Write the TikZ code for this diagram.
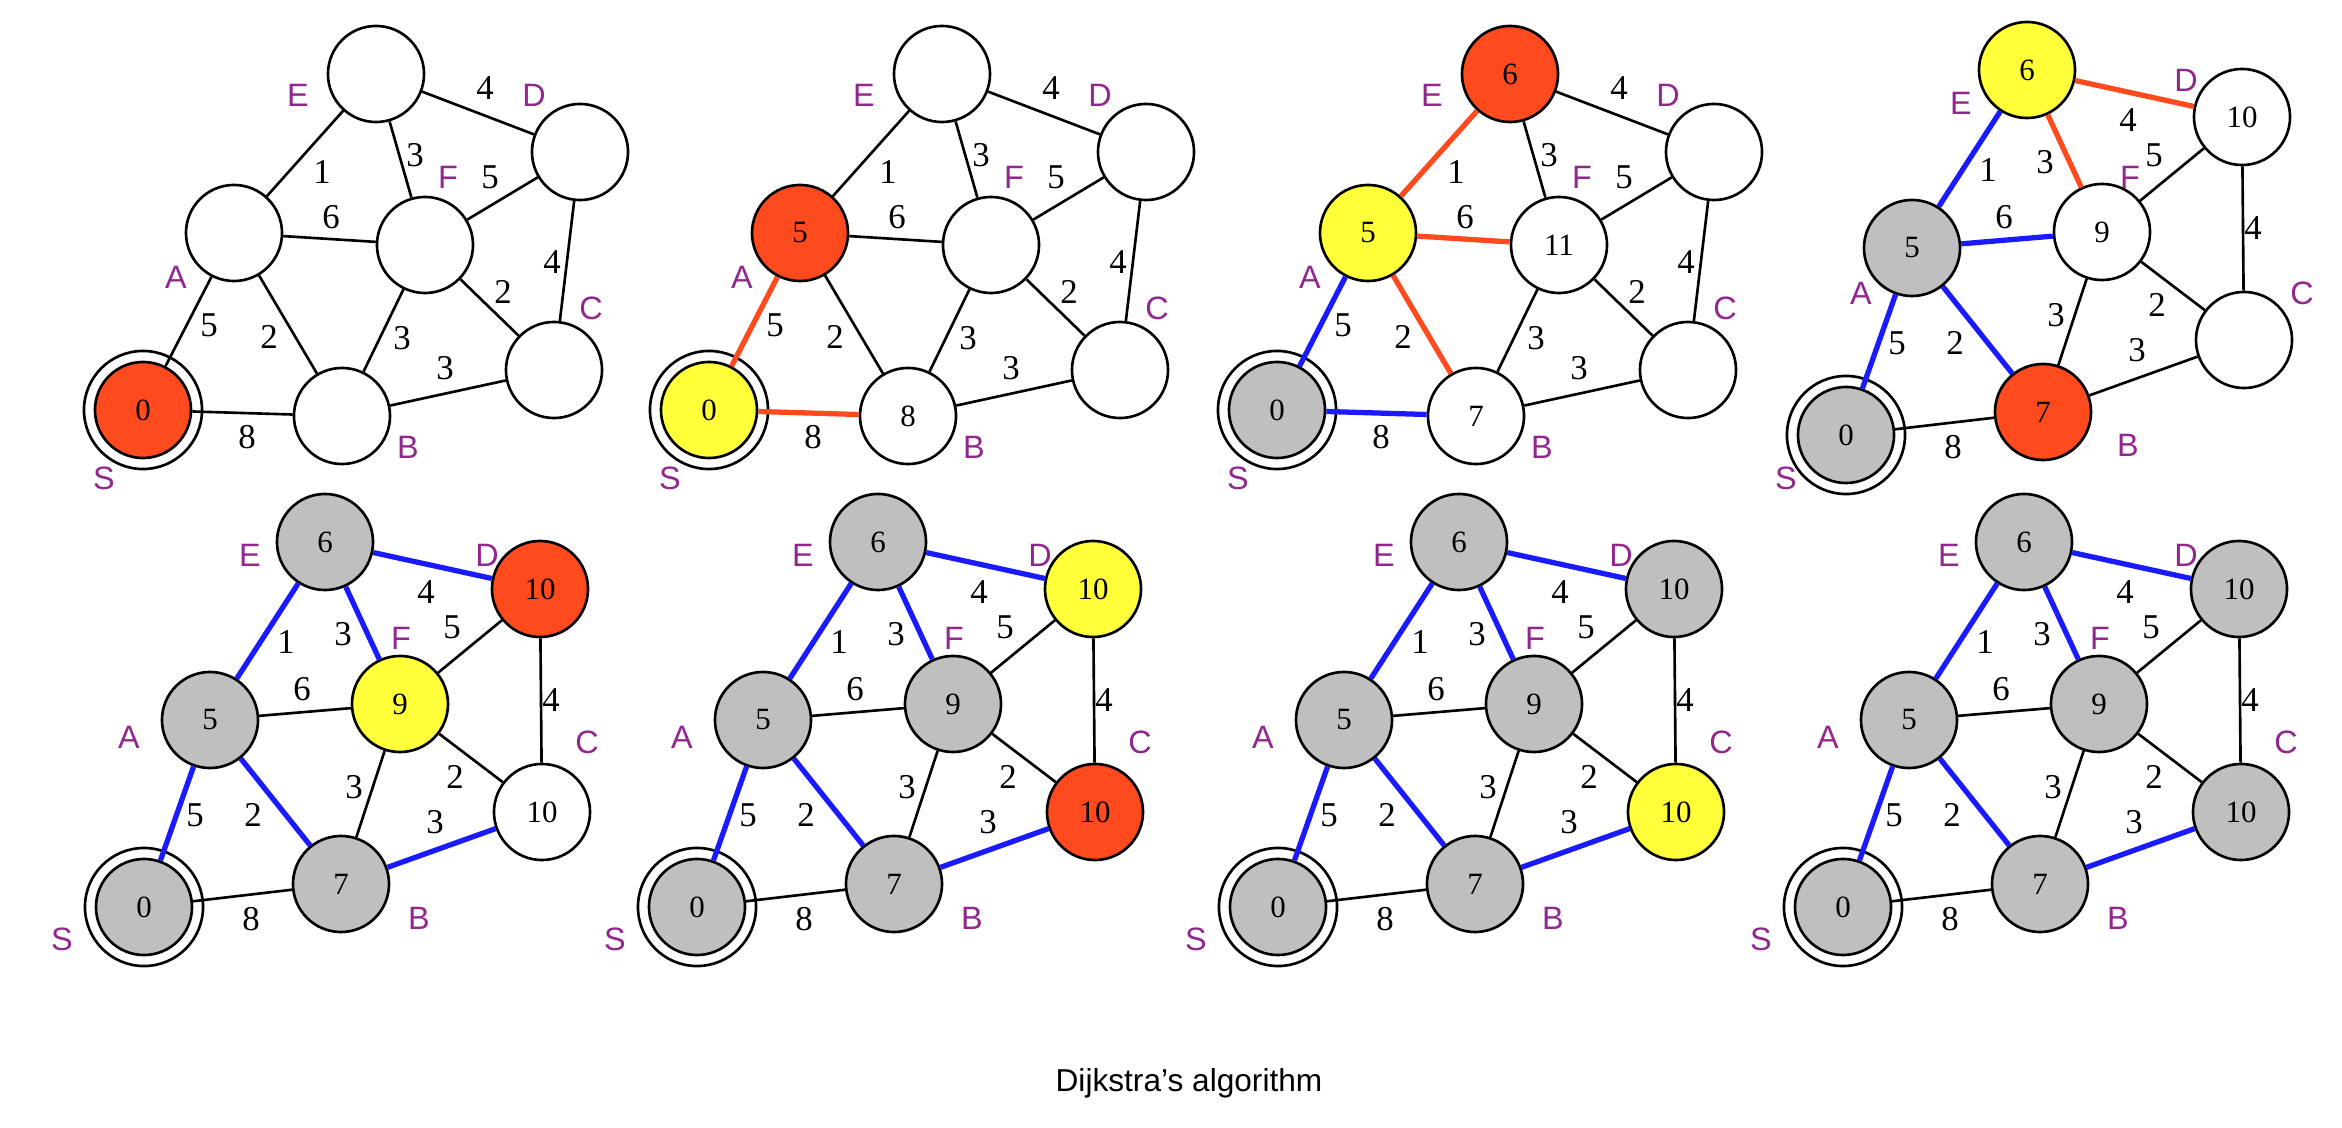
\documentclass[tikz,border=0pt]{standalone}
\usepackage{fontspec}
\setmainfont{Liberation Serif}
\newfontfamily\lblfont{Liberation Sans}
\usetikzlibrary{calc}

\definecolor{curred}{RGB}{255,74,30}
\definecolor{nxtyellow}{RGB}{255,255,58}
\definecolor{setgray}{RGB}{191,191,191}
\definecolor{treeblue}{RGB}{26,26,255}
\definecolor{lblpurple}{RGB}{146,38,143}

\tikzset{
	vert/.style={circle,draw,line width=0.75pt,minimum size=0.96cm,inner sep=0pt,font=\fontsize{8.8}{8.8}\selectfont},
	unseen/.style={fill=white},
	current/.style={fill=curred},
	frontier/.style={fill=nxtyellow},
	settled/.style={fill=setgray},
	ring/.style={line width=0.75pt},
	edg/.style={line width=0.75pt},
	tree/.style={line width=1.5pt,treeblue},
	relax/.style={line width=1.5pt,curred},
	wt/.style={font=\fontsize{9.9}{9.9}\selectfont,inner sep=0pt},
	lbl/.style={font=\lblfont\fontsize{9.2}{9.2}\selectfont,text=lblpurple,inner sep=0pt}
}

\newcommand{\layoutA}{%
	\foreach \n/\p in {S/{143,410},A/{234,233},E/{376,74},D/{580,152},F/{425,245},C/{554,370},B/{342,416}}
		\coordinate (\n0) at (\p);
	\foreach \n/\p/\w in {ED/{485,88}/4,EF/{415,155}/3,AE/{322,172}/1,FD/{490,177}/5,AF/{331,217}/6,DC/{552,262}/4,
			FC/{503,292}/2,SA/{209,325}/5,AB/{269,337}/2,FB/{402,338}/3,BC/{445,368}/3,SB/{247,437}/8}
		\node[wt] (w\n) at (\p) {\w};
}
\newcommand{\layoutB}{%
	\foreach \n/\p in {S/{144,435},A/{210,248},E/{325,70},D/{540,117},F/{400,232},C/{542,340},B/{341,412}}
		\coordinate (\n0) at (\p);
	\foreach \n/\p/\w in {ED/{426,120}/4,EF/{343,162}/3,AE/{286,170}/1,FD/{452,155}/5,AF/{302,217}/6,DC/{551,228}/4,
			FC/{455,305}/2,FB/{354,315}/3,SA/{195,343}/5,AB/{253,343}/2,BC/{435,350}/3,SB/{251,447}/8}
		\node[wt] (w\n) at (\p) {\w};
}
\newcommand{\lettersA}{\foreach \n/\p in {E/{298,95},D/{534,95},F/{448,177},A/{176,277},C/{591,308},B/{408,447},S/{104,478}}
	\node[lbl] (l\n) at (\p) {\n};}
\newcommand{\lettersB}{\foreach \n/\p in {E/{259,103},D/{484,80},F/{428,177},A/{159,293},C/{600,293},B/{426,445},S/{84,478}}
	\node[lbl] (l\n) at (\p) {\n};}
\newcommand{\lettersC}{\foreach \n/\p in {E/{250,83},D/{487,83},F/{401,166},A/{129,265},C/{587,270},B/{419,446},S/{62,467}}
	\node[lbl] (l\n) at (\p) {\n};}

\newcommand{\dgraph}[4]{%
	#1#2
	\foreach \n/\s/\v in {#3}
		\node[vert,\s] (\n) at (\n0) {\v};
	\draw[ring] (S.center) circle (0.59cm);
	\foreach \a/\b/\s in {#4}
		\draw[\s] (\a) -- (\b);
}

\begin{document}
\begin{tikzpicture}[x=0.01cm,y=-0.01cm]
	\useasboundingbox (0,0) rectangle (2342,1128);
	
	\begin{scope}[name prefix=p1-]
		\dgraph{\layoutA}{\lettersA}
			{S/current/0,A/unseen/{},B/unseen/{},C/unseen/{},D/unseen/{},E/unseen/{},F/unseen/{}}
			{S/A/edg,S/B/edg,A/E/edg,A/F/edg,A/B/edg,E/F/edg,E/D/edg,F/D/edg,F/C/edg,F/B/edg,D/C/edg,B/C/edg}
	\end{scope}
	\begin{scope}[shift={(566,0)},name prefix=p2-]
		\dgraph{\layoutA}{\lettersA}
			{S/frontier/0,A/current/5,B/unseen/8,C/unseen/{},D/unseen/{},E/unseen/{},F/unseen/{}}
			{S/A/relax,S/B/relax,A/E/edg,A/F/edg,A/B/edg,E/F/edg,E/D/edg,F/D/edg,F/C/edg,F/B/edg,D/C/edg,B/C/edg}
	\end{scope}
	\begin{scope}[shift={(1134,0)},name prefix=p3-]
		\dgraph{\layoutA}{\lettersA}
			{S/settled/0,A/frontier/5,B/unseen/7,C/unseen/{},D/unseen/{},E/current/6,F/unseen/11}
			{S/A/tree,S/B/tree,A/E/relax,A/F/relax,A/B/relax,E/F/edg,E/D/edg,F/D/edg,F/C/edg,F/B/edg,D/C/edg,B/C/edg}
	\end{scope}
	\begin{scope}[shift={(1702,0)},name prefix=p4-]
		\dgraph{\layoutB}{\lettersB}
			{S/settled/0,A/settled/5,B/current/7,C/unseen/{},D/unseen/10,E/frontier/6,F/unseen/9}
			{S/A/tree,S/B/edg,A/E/tree,A/F/tree,A/B/tree,E/F/relax,E/D/relax,F/D/edg,F/C/edg,F/B/edg,D/C/edg,B/C/edg}
	\end{scope}
	
	\begin{scope}[shift={(0,472)},name prefix=p5-]
		\dgraph{\layoutB}{\lettersC}
			{S/settled/0,A/settled/5,B/settled/7,C/unseen/10,D/current/10,E/settled/6,F/frontier/9}
			{S/A/tree,S/B/edg,A/E/tree,A/F/edg,A/B/tree,E/F/tree,E/D/tree,F/D/edg,F/C/edg,F/B/edg,D/C/edg,B/C/tree}
	\end{scope}
	\begin{scope}[shift={(553,472)},name prefix=p6-]
		\dgraph{\layoutB}{\lettersC}
			{S/settled/0,A/settled/5,B/settled/7,C/current/10,D/frontier/10,E/settled/6,F/settled/9}
			{S/A/tree,S/B/edg,A/E/tree,A/F/edg,A/B/tree,E/F/tree,E/D/tree,F/D/edg,F/C/edg,F/B/edg,D/C/edg,B/C/tree}
	\end{scope}
	\begin{scope}[shift={(1134,472)},name prefix=p7-]
		\dgraph{\layoutB}{\lettersC}
			{S/settled/0,A/settled/5,B/settled/7,C/frontier/10,D/settled/10,E/settled/6,F/settled/9}
			{S/A/tree,S/B/edg,A/E/tree,A/F/edg,A/B/tree,E/F/tree,E/D/tree,F/D/edg,F/C/edg,F/B/edg,D/C/edg,B/C/tree}
	\end{scope}
	\begin{scope}[shift={(1699,472)},name prefix=p8-]
		\dgraph{\layoutB}{\lettersC}
			{S/settled/0,A/settled/5,B/settled/7,C/settled/10,D/settled/10,E/settled/6,F/settled/9}
			{S/A/tree,S/B/edg,A/E/tree,A/F/edg,A/B/tree,E/F/tree,E/D/tree,F/D/edg,F/C/edg,F/B/edg,D/C/edg,B/C/tree}
	\end{scope}
	
	\node[font=\lblfont\fontsize{9}{9}\selectfont] (title) at (1189,1083) {Dijkstra’s algorithm};
\end{tikzpicture}
\end{document}
